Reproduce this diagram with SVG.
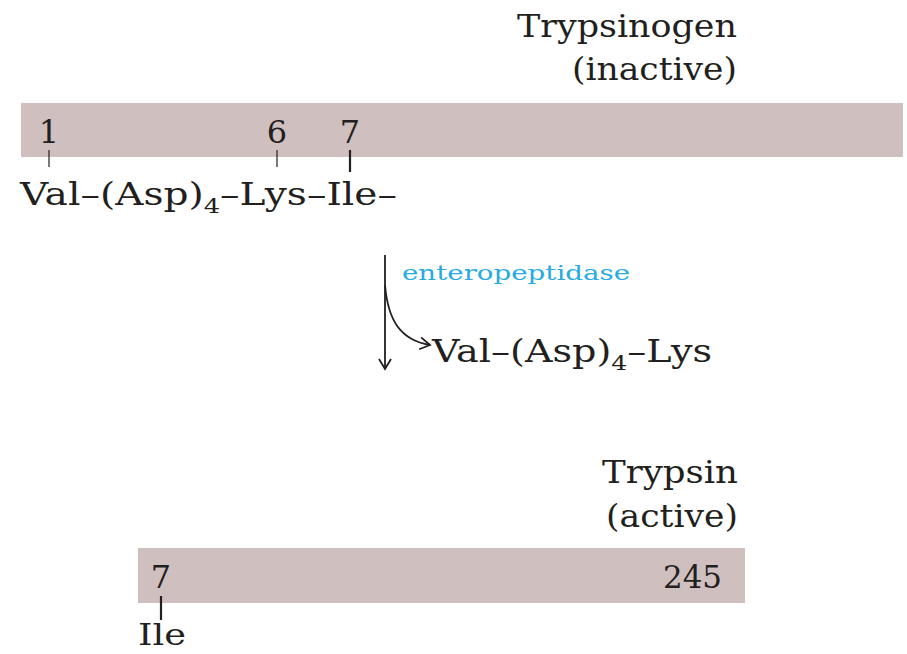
<svg xmlns="http://www.w3.org/2000/svg" width="907" height="654" viewBox="0 0 907 654">
<style>
.t{font-family:"DejaVu Serif","Liberation Serif",serif;fill:#231f20}
.big{font-size:31px}
.lab{font-size:32px}
.sub{font-size:21px}
.enz{font-family:"DejaVu Serif","Liberation Serif",serif;font-size:21px;fill:#29abe2}
.bar{fill:#cfbfbf}
.tk{stroke:#231f20;fill:none}
</style>
<defs>
<marker id="ah" markerWidth="14" markerHeight="14" refX="11" refY="7" orient="auto" markerUnits="userSpaceOnUse">
<path d="M1,1 L11,7 L1,13" fill="none" stroke="#231f20" stroke-width="1.8"/>
</marker>
</defs>
<rect width="907" height="654" fill="#fff"/>
<g id="trypsinogen">
<text class="t big" x="737" y="37" text-anchor="end" textLength="220" lengthAdjust="spacingAndGlyphs">Trypsinogen</text>
<text class="t big" x="737" y="80" text-anchor="end" textLength="165" lengthAdjust="spacingAndGlyphs">(inactive)</text>
<rect class="bar" x="21" y="103" width="882" height="54"/>
<text class="t lab" x="49" y="143" text-anchor="middle">1</text>
<text class="t lab" x="277" y="143" text-anchor="middle">6</text>
<text class="t lab" x="350" y="143" text-anchor="middle">7</text>
<line class="tk" x1="49" y1="150" x2="49" y2="167" stroke-width="1.2"/>
<line class="tk" x1="277" y1="150" x2="277" y2="167" stroke-width="1.2"/>
<line class="tk" x1="350" y1="150" x2="350" y2="172" stroke-width="2.2"/>
<text class="t lab" x="20" y="205" textLength="377" lengthAdjust="spacingAndGlyphs">Val–(Asp)<tspan class="sub" dy="8">4</tspan><tspan dy="-8">–Lys–Ile–</tspan></text>
</g>
<g id="connectors">
<line class="tk" x1="385" y1="255" x2="385" y2="369" stroke-width="1.8" marker-end="url(#ah)"/>
<path class="tk" d="M385,285 C388,320 400,340 430,345" stroke-width="1.8" marker-end="url(#ah)"/>
</g>
<g id="enteropeptidase">
<text class="enz" x="402" y="280" textLength="228" lengthAdjust="spacingAndGlyphs">enteropeptidase</text>
</g>
<g id="peptide">
<text class="t lab" x="432" y="362" textLength="280" lengthAdjust="spacingAndGlyphs">Val–(Asp)<tspan class="sub" dy="8">4</tspan><tspan dy="-8">–Lys</tspan></text>
</g>
<g id="trypsin">
<text class="t big" x="738" y="483" text-anchor="end" textLength="136" lengthAdjust="spacingAndGlyphs">Trypsin</text>
<text class="t big" x="738" y="527" text-anchor="end" textLength="132" lengthAdjust="spacingAndGlyphs">(active)</text>
<rect class="bar" x="138" y="548" width="607" height="55"/>
<text class="t lab" x="161" y="588" text-anchor="middle">7</text>
<text class="t lab" x="722" y="588" text-anchor="end" textLength="59" lengthAdjust="spacingAndGlyphs">245</text>
<line class="tk" x1="161" y1="596" x2="161" y2="620" stroke-width="2.2"/>
<text class="t" x="138" y="645" font-size="30" textLength="48" lengthAdjust="spacingAndGlyphs">Ile</text>
</g>
</svg>
